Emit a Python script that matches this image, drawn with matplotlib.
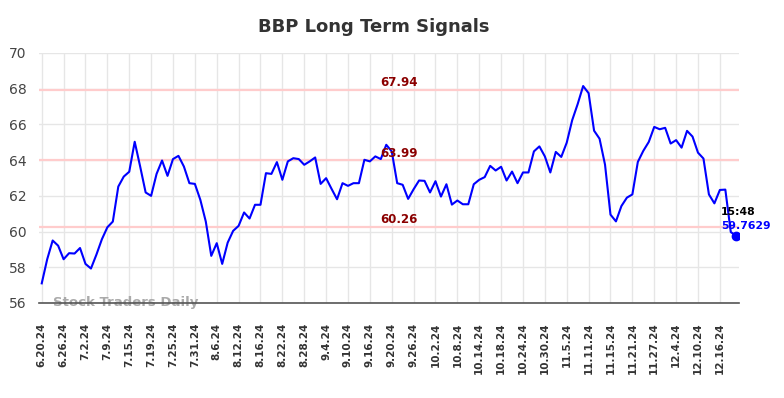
import numpy as np
import matplotlib
matplotlib.use('Agg')
import matplotlib.pyplot as plt

# closing values, one per trading day (6.20.24 .. 12.19.24)
values = [57.10, 58.45, 59.50, 59.21, 58.45, 58.79, 58.77, 59.08, 58.19, 57.93,
          58.71, 59.57, 60.24, 60.56, 62.52, 63.08, 63.35, 65.03, 63.64, 62.19,
          62.00, 63.23, 63.98, 63.12, 64.06, 64.24, 63.64, 62.71, 62.67, 61.78,
          60.56, 58.64, 59.35, 58.19, 59.38, 60.04, 60.32, 61.07, 60.73, 61.50,
          61.50, 63.27, 63.23, 63.89, 62.90, 63.93, 64.11, 64.06, 63.74, 63.93,
          64.15, 62.67, 62.99, 62.39, 61.81, 62.71, 62.56, 62.71, 62.71, 64.02,
          63.93, 64.21, 64.06, 64.86, 64.49, 62.71, 62.62, 61.83, 62.37, 62.86,
          62.84, 62.19, 62.82, 61.96, 62.65, 61.51, 61.74, 61.53, 61.53, 62.65,
          62.90, 63.05, 63.68, 63.42, 63.63, 62.86, 63.36, 62.71, 63.31, 63.31,
          64.49, 64.77, 64.21, 63.31, 64.46, 64.18, 64.98, 66.24, 67.14, 68.15,
          67.75, 65.65, 65.20, 63.75, 60.95, 60.57, 61.43, 61.90, 62.08, 63.90,
          64.52, 65.02, 65.86, 65.73, 65.81, 64.93, 65.12, 64.70, 65.64, 65.32,
          64.42, 64.09, 62.08, 61.58, 62.33, 62.35, 59.97, 59.7629]

tick_labels = ["6.20.24", "6.26.24", "7.2.24", "7.9.24", "7.15.24", "7.19.24",
               "7.25.24", "7.31.24", "8.6.24", "8.12.24", "8.16.24", "8.22.24",
               "8.28.24", "9.4.24", "9.10.24", "9.16.24", "9.20.24", "9.26.24",
               "10.2.24", "10.8.24", "10.14.24", "10.18.24", "10.24.24", "10.30.24",
               "11.5.24", "11.11.24", "11.15.24", "11.21.24", "11.27.24", "12.4.24",
               "12.10.24", "12.16.24"]
tick_step = 4

levels = [67.94, 63.99, 60.26]
last_time = "15:48"

x = np.arange(len(values))

fig = plt.figure(figsize=(7.84, 3.98), dpi=100)
ax = fig.add_axes([39 / 784, 1 - 303 / 398, 700 / 784, 250 / 398])

ax.set_xlim(-0.5, len(values) - 0.5)
ax.set_ylim(56, 70)

ax.set_xticks(x[::tick_step][:len(tick_labels)])
ax.set_xticklabels(tick_labels, rotation=90, fontsize=7.5, fontweight='bold',
                   color='#333333')
ax.set_yticks(np.arange(56, 71, 2))
ax.tick_params(axis='y', length=0, pad=9, labelsize=10, labelcolor='#444444')
ax.tick_params(axis='x', length=0, pad=14)
ax.grid(True, color='#e6e6e6', linewidth=1)
ax.set_axisbelow(True)
for s in ['top', 'right', 'left']:
    ax.spines[s].set_visible(False)
ax.spines['bottom'].set_color('#555555')
ax.spines['bottom'].set_linewidth(1.2)

# support / resistance levels
for lv in levels:
    ax.axhline(lv, color='#ffcccc', linewidth=1.6, zorder=1)
    ax.annotate(f"{lv:.2f}", (65.4, lv), xytext=(0, 7), textcoords='offset pixels',
                ha='center', va='center', fontsize=8.5, fontweight='bold',
                color='#8b0000', zorder=4)

ax.plot(x, values, color='#0000ff', linewidth=1.5, zorder=3)
ax.plot(x[-1], values[-1], 'o', color='#0000ff', markersize=6, zorder=4)

ax.annotate(last_time, (x[-1], values[-1]), xytext=(-15, 24),
            textcoords='offset pixels', ha='left', va='center',
            fontsize=7.8, fontweight='bold', color='black', zorder=5)
ax.annotate(f"{values[-1]:.4f}", (x[-1], values[-1]), xytext=(-15, 10),
            textcoords='offset pixels', ha='left', va='center',
            fontsize=7.8, fontweight='bold', color='#0000ff', zorder=5)

ax.text(2.0, 56.05, "Stock Traders Daily", fontsize=9.5, fontweight='bold',
        color='#aaaaaa', ha='left', va='center', zorder=2)

fig.text(374 / 784, 1 - 27 / 398, "BBP Long Term Signals", fontsize=13,
         fontweight='bold', color='#333333', ha='center', va='center')

fig.savefig("out.png", dpi=100)
